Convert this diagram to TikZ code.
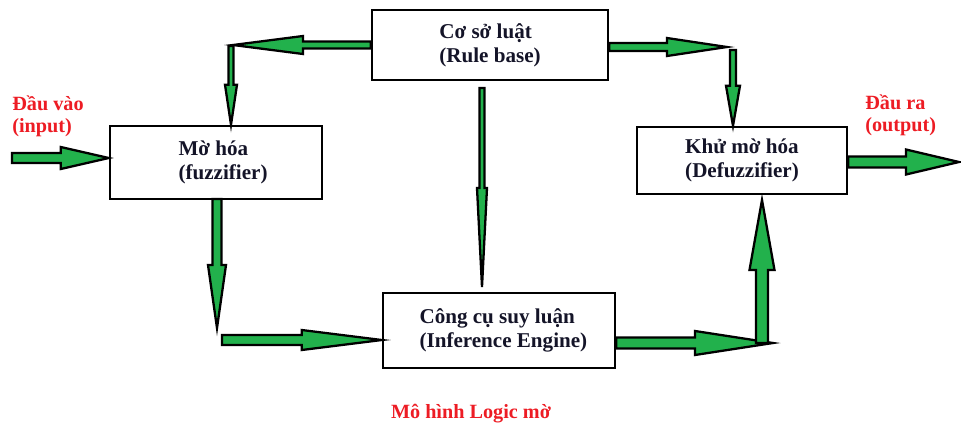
\documentclass[tikz,border=0pt]{standalone}
\usepackage{fontspec}
\setmainfont{Liberation Serif}
\usetikzlibrary{calc}

\definecolor{arrgreen}{HTML}{22B14C}
\definecolor{lblred}{HTML}{ED1C24}
\definecolor{txtdark}{HTML}{141428}

% one pixel of the drawing grid
\def\pxu{0.02cm}
\def\pxn{0.5690551}

% block arrow from #1 to its tip #2:
% #3 half shaft width, #4 half head width, #5 head length (grid units)
\newcommand\blockarrow[5]{%
  \filldraw[blockarr] let \p1=(#1), \p2=(#2),
      \n1={atan2(\y2-\y1,\x2-\x1)},
      \n2={veclen(\x2-\x1,\y2-\y1)} in
    ($(\p1)+(\n1+90:{#3*\pxn*1pt})$)
    -- ($(\p1)+(\n1:{(\n2-#5*\pxn)*1pt})+(\n1+90:{#3*\pxn*1pt})$)
    -- ($(\p1)+(\n1:{(\n2-#5*\pxn)*1pt})+(\n1+90:{#4*\pxn*1pt})$)
    -- (\p2)
    -- ($(\p1)+(\n1:{(\n2-#5*\pxn)*1pt})+(\n1-90:{#4*\pxn*1pt})$)
    -- ($(\p1)+(\n1:{(\n2-#5*\pxn)*1pt})+(\n1-90:{#3*\pxn*1pt})$)
    -- ($(\p1)+(\n1-90:{#3*\pxn*1pt})$) -- cycle;%
}

\tikzset{
  blockarr/.style={fill=arrgreen, draw=black, line width=1.3pt, line join=miter},
  stage/.style={draw=black, line width=1.4pt, fill=white, align=left,
    text=txtdark, font=\bfseries\fontsize{12}{13.5}\selectfont, inner sep=0pt},
  redlbl/.style={text=lblred, align=left, inner sep=0pt,
    font=\bfseries\fontsize{11.5}{12.5}\selectfont}
}

\begin{document}
\begin{tikzpicture}[x=0.02cm, y=-0.02cm]
\useasboundingbox (0,0) rectangle (961,427);

% processing stages
\node[stage, minimum width={236*\pxu}, minimum height={70*\pxu}] (rule) at (490,45)
  {Cơ sở luật\\(Rule base)};
\node[stage, minimum width={212*\pxu}, minimum height={73*\pxu}] (fuzz) at (216,162.5)
  {\hspace*{8pt}Mờ hóa\\\hspace*{8pt}(fuzzifier)};
\node[stage, minimum width={232*\pxu}, minimum height={75*\pxu}] (infer) at (499,330.5)
  {\hspace*{5pt}Công cụ suy luận\\\hspace*{5pt}(Inference Engine)};
\node[stage, minimum width={210*\pxu}, minimum height={67*\pxu}] (defuzz) at (742,160.5)
  {Khử mờ hóa\\(Defuzzifier)};

% labels
\node[redlbl, anchor=west] (inlbl) at (12,116) {Đầu vào\\(input)};
\node[redlbl, anchor=west] (outlbl) at (865,115) {Đầu ra\\(output)};
\node[redlbl] (title) at (471,414) {Mô hình Logic mờ};

% arrow end points
\coordinate (inS) at (12,158);
\coordinate (inT) at (fuzz.west |- inS);
\coordinate (rlS) at (rule.west);
\coordinate (rlT) at (233,45);
\coordinate (rdS) at (231,46);
\coordinate (rdT) at (fuzz.north -| rdS);
\coordinate (fdS) at (217,199);
\coordinate (fdT) at (217,328);
\coordinate (fiS) at (222,340);
\coordinate (fiT) at (infer.west |- fiS);
\coordinate (rvS) at (482,88);
\coordinate (rvT) at (482,287);
\coordinate (rrS) at (rule.east |- 0,47);
\coordinate (rrT) at (727,47);
\coordinate (rrdS) at (733,50);
\coordinate (rrdT) at (defuzz.north -| rrdS);
\coordinate (irS) at (infer.east |- 0,343);
\coordinate (irT) at (773,343);
\coordinate (upS) at (762,343);
\coordinate (upT) at (762,200);
\coordinate (outS) at (defuzz.east |- 0,162);
\coordinate (outT) at (959,162);

% flow
\blockarrow{inS}{inT}{5}{11}{48}
\blockarrow{rlS}{rlT}{3.5}{9}{70}
\blockarrow{rdS}{rdT}{2.5}{6}{40}
\blockarrow{fdS}{fdT}{4.5}{9}{63}
\blockarrow{fiS}{fiT}{5}{10}{80}
\blockarrow{rvS}{rvT}{2.5}{5}{99}
\blockarrow{rrS}{rrT}{4}{9}{60}
\blockarrow{rrdS}{rrdT}{3}{7}{40}
\blockarrow{irS}{irT}{5.5}{12}{78}
\blockarrow{upS}{upT}{6}{12.5}{70}
\blockarrow{outS}{outT}{5.5}{12.5}{53}
\end{tikzpicture}
\end{document}
